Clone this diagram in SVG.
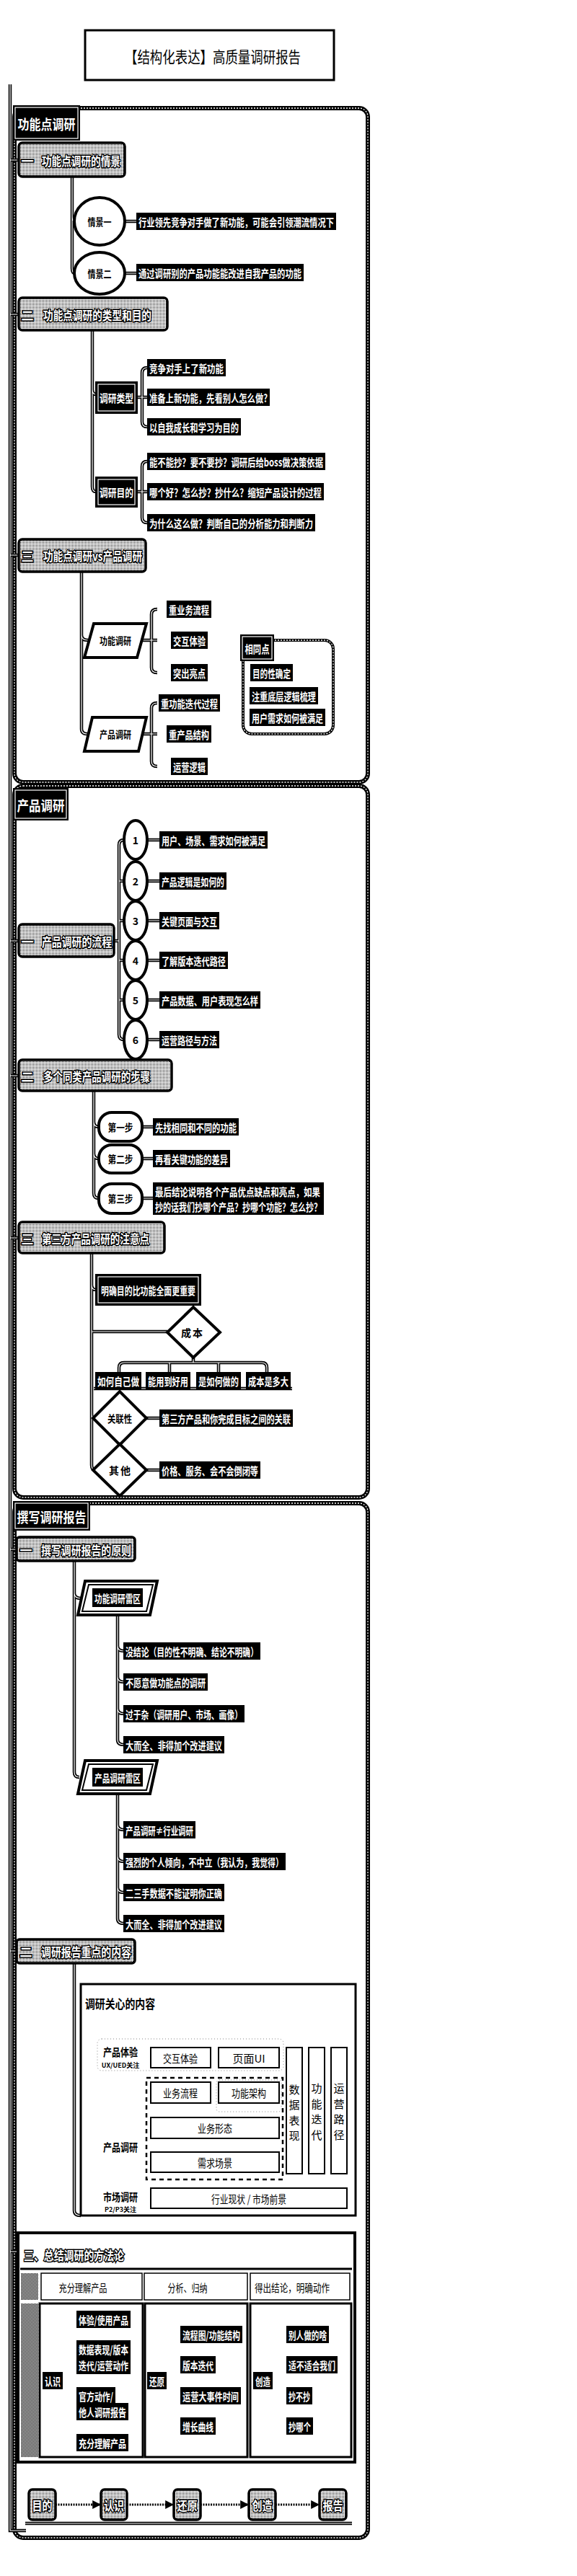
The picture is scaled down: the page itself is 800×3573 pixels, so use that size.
<svg xmlns="http://www.w3.org/2000/svg" xmlns:xlink="http://www.w3.org/1999/xlink" width="800" height="3573" viewBox="0 0 800 3573">
<defs>
<style>
text { font-family: "Noto Sans CJK SC", "Noto Sans", sans-serif; }
.lb { fill:#000; stroke:#000; stroke-width:2; }
.lt { fill:#fff; font-size:15px; font-weight:bold; dominant-baseline:central; }
.ht { fill:#fff; stroke:#000; stroke-width:3; paint-order:stroke; font-size:17px; font-weight:bold; dominant-baseline:central; }
.sh { fill:url(#dots); stroke:#000; stroke-width:3.5; }
.nt { fill:#000; font-size:14px; font-weight:bold; dominant-baseline:central; text-anchor:middle; }
.st { fill:#fff; font-size:19px; font-weight:bold; dominant-baseline:central; text-anchor:middle; }
.shape { fill:#fff; stroke:#000; stroke-width:4; }
.frame { fill:none; stroke:#000; stroke-width:6; }
.frame2 { fill:none; stroke:#fff; stroke-width:1.3; stroke-dasharray:2 2; }
.bx { fill:#fff; stroke:#000; stroke-width:2; }
.bt { fill:#000; font-size:15px; dominant-baseline:central; text-anchor:middle; }
.flow { fill:none; stroke:#000; stroke-width:3; stroke-dasharray:2 1.5; }
</style>
<pattern id="dots" width="2" height="2" patternUnits="userSpaceOnUse"><rect width="2" height="2" fill="#fff"/><rect width="1" height="1" fill="#000"/></pattern>
<pattern id="hatch" width="2" height="2" patternUnits="userSpaceOnUse"><rect width="2" height="2" fill="#fff"/><rect width="1" height="1" fill="#000"/><rect x="1" y="1" width="1" height="1" fill="#000"/></pattern>
<marker id="ah" viewBox="0 0 10 10" refX="9" refY="5" markerWidth="4" markerHeight="4" orient="auto"><path d="M0 0 L10 5 L0 10z" fill="#000"/></marker>
<g id="conn-paths">
<path d="M14 117 V3510 H36"/>
<path d="M14 222 H26 M14 436 H26 M14 770 H26 M14 1305 H26 M14 1492 H26 M14 1717 H26 M14 2149 H23 M14 2706 H23 M14 3123 H25"/>
<path d="M100 245 V372 Q100 379 104 379 M100 300 Q100 307 104 307"/>
<path d="M173 307 H190 M173 379 H190"/>
<path d="M128 458 V675 Q128 682 133 682 M128 540 Q128 547 133 547"/>
<path d="M204 510 Q197 510 197 517 V585 Q197 592 204 592 M190 551 H205"/>
<path d="M204 640 Q197 640 197 647 V718 Q197 725 204 725 M190 682 H205"/>
<path d="M113 793 V1011 Q113 1018 121 1018 M113 881 Q113 888 122 888"/>
<path d="M218 845 Q210 845 210 852 V926 Q210 933 218 933 M197 888 H218"/>
<path d="M218 975 Q210 975 210 982 V1056 Q210 1063 218 1063 M197 1018 H218"/>
<path d="M158 1305 H165 M172 1165 Q165 1165 165 1172 V1435 Q165 1442 172 1442 M165 1222 H172 M165 1277 H172 M165 1332 H172 M165 1387 H172"/>
<path d="M204 1165 H222 M204 1222 H222 M204 1277 H222 M204 1332 H222 M204 1387 H222 M204 1442 H222"/>
<path d="M130 1513 V1655 Q130 1662 137 1662 M130 1556 Q130 1563 137 1563 M130 1600 Q130 1607 137 1607"/>
<path d="M197 1563 H213 M197 1607 H213 M197 1662 H213"/>
<path d="M127 1738 V2031 Q127 2038 130 2038 M127 1782 Q127 1789 133 1789 M127 1847 H232 M127 1960 Q127 1967 130 1967"/>
<path d="M268 1883 V1890 M165 1905 V1897 Q165 1890 172 1890 H363 Q370 1890 370 1897 V1905 M235 1890 V1905 M303 1890 V1905"/>
<path d="M130 1926 H405"/>
<path d="M203 1967 H222 M203 2039 H222"/>
<path d="M103 2165 V2458 Q103 2465 110 2465 M103 2210 Q103 2217 113 2217"/>
<path d="M163 2240 V2413 Q163 2420 172 2420 M163 2283 Q163 2290 172 2290 M163 2326 Q163 2333 172 2333 M163 2370 Q163 2377 172 2377"/>
<path d="M163 2488 V2661 Q163 2668 172 2668 M163 2531 Q163 2538 172 2538 M163 2575 Q163 2582 172 2582 M163 2618 Q163 2625 172 2625"/>
<path d="M103 2723 V3066 Q103 3073 112 3073"/>
<path d="M86 3302 H97 M107 3217 Q97 3217 97 3224 V3381 Q97 3388 107 3388 M97 3270 H107 M97 3333 H107"/>
<path d="M230 3302 H243 M251 3238 Q243 3238 243 3245 V3358 Q243 3365 251 3365 M243 3280 H251 M243 3323 H251"/>
<path d="M377 3302 H388 M398 3238 Q388 3238 388 3245 V3358 Q388 3365 398 3365 M388 3280 H398 M388 3323 H398"/>
<path d="M35 3500 H488"/>
</g>
</defs>
<rect width="800" height="3573" fill="#fff"/>

<g id="title">
<rect x="118" y="42" width="345" height="69" fill="#fff" stroke="#000" stroke-width="3"/>
<text x="295" y="77" text-anchor="middle" font-size="22" dominant-baseline="central" textLength="244" lengthAdjust="spacingAndGlyphs">【结构化表达】高质量调研报告</text>
</g>

<g id="frames">
<rect class="frame" x="20" y="150" width="490" height="935" rx="12"/>
<rect class="frame2" x="20" y="150" width="490" height="935" rx="12"/>
<rect class="frame" x="20" y="1090" width="490" height="987" rx="12"/>
<rect class="frame2" x="20" y="1090" width="490" height="987" rx="12"/>
<rect class="frame" x="20" y="2085" width="490" height="1435" rx="12"/>
<rect class="frame2" x="20" y="2085" width="490" height="1435" rx="12"/>
</g>

<g id="connectors" fill="none">
<use href="#conn-paths" stroke="#000" stroke-width="4.5"/>
<use href="#conn-paths" stroke="#fff" stroke-width="1.2"/>
</g>

<!-- Section headers -->
<g id="sec1">
<rect x="18" y="146" width="93" height="49" fill="#000"/>
<rect x="21" y="149" width="87" height="43" fill="none" stroke="#fff" stroke-width="1.2"/>
<text class="st" x="64.5" y="171" textLength="80" lengthAdjust="spacingAndGlyphs">功能点调研</text>
</g>
<g id="sec2">
<rect x="18" y="1093" width="77" height="45" fill="#000"/>
<rect x="21" y="1096" width="71" height="39" fill="none" stroke="#fff" stroke-width="1.2"/>
<text class="st" x="56.5" y="1116" textLength="66" lengthAdjust="spacingAndGlyphs">产品调研</text>
</g>
<g id="sec3">
<rect x="18" y="2082" width="107" height="41" fill="#000"/>
<rect x="21" y="2085" width="101" height="35" fill="none" stroke="#fff" stroke-width="1.2"/>
<text class="st" x="71.5" y="2103" textLength="96" lengthAdjust="spacingAndGlyphs">撰写调研报告</text>
</g>

<!-- Sub headers -->
<g id="s1-1"><rect class="sh" x="26" y="198" width="147" height="47" rx="5"/><text class="ht" x="38" y="222" text-anchor="middle">一</text><text class="ht" x="58" y="222" textLength="109" lengthAdjust="spacingAndGlyphs">功能点调研的情景</text></g>
<g id="s1-2"><rect class="sh" x="26" y="413" width="206" height="45" rx="5"/><text class="ht" x="38" y="436" text-anchor="middle">二</text><text class="ht" x="60" y="436" textLength="150" lengthAdjust="spacingAndGlyphs">功能点调研的类型和目的</text></g>
<g id="s1-3"><rect class="sh" x="26" y="748" width="176" height="45" rx="5"/><text class="ht" x="38" y="770" text-anchor="middle">三</text><text class="ht" x="60" y="770" textLength="137" lengthAdjust="spacingAndGlyphs">功能点调研vs产品调研</text></g>
<g id="s2-1"><rect class="sh" x="26" y="1282" width="132" height="45" rx="5"/><text class="ht" x="38" y="1305" text-anchor="middle">一</text><text class="ht" x="58" y="1305" textLength="97" lengthAdjust="spacingAndGlyphs">产品调研的流程</text></g>
<g id="s2-2"><rect class="sh" x="26" y="1470" width="212" height="43" rx="5"/><text class="ht" x="38" y="1492" text-anchor="middle">二</text><text class="ht" x="60" y="1492" textLength="148" lengthAdjust="spacingAndGlyphs">多个同类产品调研的步骤</text></g>
<g id="s2-3"><rect class="sh" x="26" y="1695" width="202" height="43" rx="5"/><text class="ht" x="38" y="1717" text-anchor="middle">三</text><text class="ht" x="58" y="1717" textLength="149" lengthAdjust="spacingAndGlyphs">第三方产品调研的注意点</text></g>
<g id="s3-1"><rect class="sh" x="23" y="2132" width="164" height="33" rx="4"/><text class="ht" x="36" y="2149" text-anchor="middle">一</text><text class="ht" x="57" y="2149" textLength="125" lengthAdjust="spacingAndGlyphs">撰写调研报告的原则</text></g>
<g id="s3-2"><rect class="sh" x="23" y="2690" width="164" height="33" rx="4"/><text class="ht" x="36" y="2706" text-anchor="middle">二</text><text class="ht" x="57" y="2706" textLength="125" lengthAdjust="spacingAndGlyphs">调研报告重点的内容</text></g>

<!-- Section 1 nodes -->
<g id="qj1"><ellipse class="shape" cx="138" cy="307" rx="35" ry="33"/><text class="nt" x="138" y="307" textLength="33" lengthAdjust="spacingAndGlyphs">情景一</text></g>
<g id="qj2"><ellipse class="shape" cx="138" cy="379" rx="35" ry="29"/><text class="nt" x="138" y="379" textLength="33" lengthAdjust="spacingAndGlyphs">情景二</text></g>
<g id="l1"><rect class="lb" x="190" y="296" width="275" height="22"/><text class="lt" x="192" y="307" textLength="271" lengthAdjust="spacingAndGlyphs">行业领先竞争对手做了新功能，可能会引领潮流情况下</text></g>
<g id="l2"><rect class="lb" x="190" y="367" width="230" height="22"/><text class="lt" x="192" y="378" textLength="226" lengthAdjust="spacingAndGlyphs">通过调研别的产品功能能改进自我产品的功能</text></g>

<g id="type"><rect x="133" y="530" width="57" height="43" fill="#000" stroke="#000" stroke-width="2"/><rect x="136" y="533" width="51" height="37" fill="none" stroke="#fff" stroke-width="1.2"/><text class="lt" x="161.5" y="551" text-anchor="middle" textLength="47" lengthAdjust="spacingAndGlyphs">调研类型</text></g>
<g id="l3"><rect class="lb" x="205" y="499" width="107" height="22"/><text class="lt" x="207" y="510" textLength="103" lengthAdjust="spacingAndGlyphs">竞争对手上了新功能</text></g>
<g id="l4"><rect class="lb" x="205" y="540" width="168" height="22"/><text class="lt" x="207" y="551" textLength="164" lengthAdjust="spacingAndGlyphs">准备上新功能，先看别人怎么做?</text></g>
<g id="l5"><rect class="lb" x="205" y="581" width="128" height="22"/><text class="lt" x="207" y="592" textLength="124" lengthAdjust="spacingAndGlyphs">以自我成长和学习为目的</text></g>

<g id="purpose"><rect x="133" y="662" width="57" height="41" fill="#000" stroke="#000" stroke-width="2"/><rect x="136" y="665" width="51" height="35" fill="none" stroke="#fff" stroke-width="1.2"/><text class="lt" x="161.5" y="682" text-anchor="middle" textLength="47" lengthAdjust="spacingAndGlyphs">调研目的</text></g>
<g id="l6"><rect class="lb" x="205" y="629" width="245" height="22"/><text class="lt" x="207" y="640" textLength="241" lengthAdjust="spacingAndGlyphs">能不能抄？要不要抄？调研后给boss做决策依据</text></g>
<g id="l7"><rect class="lb" x="205" y="671" width="243" height="22"/><text class="lt" x="207" y="682" textLength="239" lengthAdjust="spacingAndGlyphs">哪个好？怎么抄？抄什么？缩短产品设计的过程</text></g>
<g id="l8"><rect class="lb" x="205" y="714" width="231" height="22"/><text class="lt" x="207" y="725" textLength="227" lengthAdjust="spacingAndGlyphs">为什么这么做？判断自己的分析能力和判断力</text></g>

<g id="fr"><polygon class="shape" points="130,865 203,865 190,912 117,912"/><text class="nt" x="160" y="888" textLength="44" lengthAdjust="spacingAndGlyphs">功能调研</text></g>
<g id="l9"><rect class="lb" x="232" y="834" width="60" height="22"/><text class="lt" x="234" y="845" textLength="56" lengthAdjust="spacingAndGlyphs">重业务流程</text></g>
<g id="l10"><rect class="lb" x="238" y="877" width="49" height="22"/><text class="lt" x="240" y="888" textLength="45" lengthAdjust="spacingAndGlyphs">交互体验</text></g>
<g id="l11"><rect class="lb" x="238" y="922" width="49" height="22"/><text class="lt" x="240" y="933" textLength="45" lengthAdjust="spacingAndGlyphs">突出亮点</text></g>
<g id="pr"><polygon class="shape" points="128,995 203,995 192,1042 117,1042"/><text class="nt" x="160" y="1018" textLength="44" lengthAdjust="spacingAndGlyphs">产品调研</text></g>
<g id="l12"><rect class="lb" x="221" y="964" width="83" height="22"/><text class="lt" x="223" y="975" textLength="79" lengthAdjust="spacingAndGlyphs">重功能迭代过程</text></g>
<g id="l13"><rect class="lb" x="232" y="1007" width="60" height="22"/><text class="lt" x="234" y="1018" textLength="56" lengthAdjust="spacingAndGlyphs">重产品结构</text></g>
<g id="l14"><rect class="lb" x="238" y="1052" width="49" height="22"/><text class="lt" x="240" y="1063" textLength="45" lengthAdjust="spacingAndGlyphs">运营逻辑</text></g>

<g id="same">
<rect class="frame" x="337" y="888" width="125" height="130" rx="12" style="stroke-width:4"/>
<rect class="frame2" x="337" y="888" width="125" height="130" rx="12"/>
<rect x="333" y="880" width="47" height="37" fill="#000"/>
<rect x="336" y="883" width="41" height="31" fill="none" stroke="#fff" stroke-width="1.2"/>
<text class="lt" x="356.5" y="899" text-anchor="middle" textLength="34" lengthAdjust="spacingAndGlyphs">相同点</text>
<rect class="lb" x="348" y="922" width="57" height="22"/><text class="lt" x="350" y="933" textLength="53" lengthAdjust="spacingAndGlyphs">目的性确定</text>
<rect class="lb" x="347" y="954" width="93" height="22"/><text class="lt" x="349" y="965" textLength="89" lengthAdjust="spacingAndGlyphs">注重底层逻辑梳理</text>
<rect class="lb" x="347" y="984" width="103" height="22"/><text class="lt" x="349" y="995" textLength="99" lengthAdjust="spacingAndGlyphs">用户需求如何被满足</text>
</g>

<!-- Section 2 nodes -->
<g id="c1"><ellipse class="shape" cx="188" cy="1165" rx="16" ry="27"/><text class="nt" x="188" y="1165">1</text></g>
<g id="c2"><ellipse class="shape" cx="188" cy="1222" rx="16" ry="27"/><text class="nt" x="188" y="1222">2</text></g>
<g id="c3"><ellipse class="shape" cx="188" cy="1277" rx="16" ry="27"/><text class="nt" x="188" y="1277">3</text></g>
<g id="c4"><ellipse class="shape" cx="188" cy="1332" rx="16" ry="27"/><text class="nt" x="188" y="1332">4</text></g>
<g id="c5"><ellipse class="shape" cx="188" cy="1387" rx="16" ry="27"/><text class="nt" x="188" y="1387">5</text></g>
<g id="c6"><ellipse class="shape" cx="188" cy="1442" rx="16" ry="27"/><text class="nt" x="188" y="1442">6</text></g>
<g id="p1"><rect class="lb" x="222" y="1154" width="148" height="22"/><text class="lt" x="224" y="1165" textLength="144" lengthAdjust="spacingAndGlyphs">用户、场景、需求如何被满足</text></g>
<g id="p2"><rect class="lb" x="222" y="1211" width="91" height="22"/><text class="lt" x="224" y="1222" textLength="87" lengthAdjust="spacingAndGlyphs">产品逻辑是如何的</text></g>
<g id="p3"><rect class="lb" x="222" y="1266" width="81" height="22"/><text class="lt" x="224" y="1277" textLength="77" lengthAdjust="spacingAndGlyphs">关键页面与交互</text></g>
<g id="p4"><rect class="lb" x="222" y="1321" width="93" height="22"/><text class="lt" x="224" y="1332" textLength="89" lengthAdjust="spacingAndGlyphs">了解版本迭代路径</text></g>
<g id="p5"><rect class="lb" x="222" y="1376" width="138" height="22"/><text class="lt" x="224" y="1387" textLength="134" lengthAdjust="spacingAndGlyphs">产品数据、用户表现怎么样</text></g>
<g id="p6"><rect class="lb" x="222" y="1431" width="81" height="22"/><text class="lt" x="224" y="1442" textLength="77" lengthAdjust="spacingAndGlyphs">运营路径与方法</text></g>

<g id="step1"><rect class="shape" x="137" y="1543" width="60" height="40" rx="18"/><text class="nt" x="167" y="1563" textLength="35" lengthAdjust="spacingAndGlyphs">第一步</text></g>
<g id="step2"><rect class="shape" x="137" y="1588" width="60" height="39" rx="18"/><text class="nt" x="167" y="1607" textLength="35" lengthAdjust="spacingAndGlyphs">第二步</text></g>
<g id="step3"><rect class="shape" x="137" y="1642" width="60" height="41" rx="18"/><text class="nt" x="167" y="1662" textLength="35" lengthAdjust="spacingAndGlyphs">第三步</text></g>
<g id="sl1"><rect class="lb" x="213" y="1552" width="117" height="22"/><text class="lt" x="215" y="1563" textLength="113" lengthAdjust="spacingAndGlyphs">先找相同和不同的功能</text></g>
<g id="sl2"><rect class="lb" x="213" y="1596" width="105" height="22"/><text class="lt" x="215" y="1607" textLength="101" lengthAdjust="spacingAndGlyphs">再看关键功能的差异</text></g>
<g id="sl3"><rect class="lb" x="213" y="1641" width="235" height="43"/><text class="lt" x="215" y="1652" textLength="229" lengthAdjust="spacingAndGlyphs">最后结论说明各个产品优点缺点和亮点，如果</text><text class="lt" x="215" y="1673" textLength="231" lengthAdjust="spacingAndGlyphs">抄的话我们抄哪个产品？抄哪个功能？怎么抄？</text></g>

<g id="goal"><rect x="133" y="1768" width="145" height="42" fill="#000" stroke="#000" stroke-width="2"/><rect x="136" y="1771" width="139" height="36" fill="none" stroke="#fff" stroke-width="1.2"/><text class="lt" x="140" y="1789" textLength="131" lengthAdjust="spacingAndGlyphs">明确目的比功能全面更重要</text></g>
<g id="cost"><polygon class="shape" points="232,1848 268,1813 305,1848 268,1883"/><text class="nt" x="266" y="1848" textLength="30" lengthAdjust="spacing">成 本</text></g>
<g id="k1"><rect class="lb" x="133" y="1904" width="62" height="22"/><text class="lt" x="135" y="1915" textLength="58" lengthAdjust="spacingAndGlyphs">如何自己做</text></g>
<g id="k2"><rect class="lb" x="203" y="1904" width="60" height="22"/><text class="lt" x="205" y="1915" textLength="56" lengthAdjust="spacingAndGlyphs">能用到好用</text></g>
<g id="k3"><rect class="lb" x="273" y="1904" width="60" height="22"/><text class="lt" x="275" y="1915" textLength="56" lengthAdjust="spacingAndGlyphs">是如何做的</text></g>
<g id="k4"><rect class="lb" x="342" y="1904" width="60" height="22"/><text class="lt" x="344" y="1915" textLength="56" lengthAdjust="spacingAndGlyphs">成本是多大</text></g>
<g id="rel"><polygon class="shape" points="129,1967 166,1930 203,1967 166,2004"/><text class="nt" x="166" y="1967" textLength="34" lengthAdjust="spacingAndGlyphs">关联性</text></g>
<g id="oth"><polygon class="shape" points="129,2039 166,2003 203,2039 166,2075"/><text class="nt" x="166" y="2039" textLength="30" lengthAdjust="spacing">其 他</text></g>
<g id="k5"><rect class="lb" x="222" y="1956" width="183" height="22"/><text class="lt" x="224" y="1967" textLength="179" lengthAdjust="spacingAndGlyphs">第三方产品和你完成目标之间的关联</text></g>
<g id="k6"><rect class="lb" x="222" y="2028" width="138" height="22"/><text class="lt" x="224" y="2039" textLength="134" lengthAdjust="spacingAndGlyphs">价格、服务、会不会倒闭等</text></g>

<!-- Section 3 nodes -->
<g id="mine1">
<polygon class="shape" points="118,2193 218,2193 208,2240 108,2240"/>
<polygon points="123,2198 212,2198 203,2235 114,2235" fill="none" stroke="#000" stroke-width="2"/>
<rect x="128" y="2203" width="70" height="26" fill="#000"/>
<text class="lt" x="131" y="2216" textLength="64" lengthAdjust="spacingAndGlyphs">功能调研雷区</text>
</g>
<g id="m1"><rect class="lb" x="172" y="2279" width="188" height="22"/><text class="lt" x="174" y="2290" textLength="184" lengthAdjust="spacingAndGlyphs">没结论（目的性不明确、结论不明确）</text></g>
<g id="m2"><rect class="lb" x="172" y="2322" width="115" height="22"/><text class="lt" x="174" y="2333" textLength="111" lengthAdjust="spacingAndGlyphs">不愿意做功能点的调研</text></g>
<g id="m3"><rect class="lb" x="172" y="2366" width="166" height="22"/><text class="lt" x="174" y="2377" textLength="162" lengthAdjust="spacingAndGlyphs">过于杂（调研用户、市场、画像）</text></g>
<g id="m4"><rect class="lb" x="172" y="2409" width="138" height="22"/><text class="lt" x="174" y="2420" textLength="134" lengthAdjust="spacingAndGlyphs">大而全、非得加个改进建议</text></g>
<g id="mine2">
<polygon class="shape" points="118,2442 218,2442 208,2488 108,2488"/>
<polygon points="123,2447 212,2447 203,2483 114,2483" fill="none" stroke="#000" stroke-width="2"/>
<rect x="128" y="2452" width="70" height="26" fill="#000"/>
<text class="lt" x="131" y="2465" textLength="64" lengthAdjust="spacingAndGlyphs">产品调研雷区</text>
</g>
<g id="m5"><rect class="lb" x="172" y="2527" width="98" height="22"/><text class="lt" x="174" y="2538" textLength="94" lengthAdjust="spacingAndGlyphs">产品调研≠行业调研</text></g>
<g id="m6"><rect class="lb" x="172" y="2571" width="223" height="22"/><text class="lt" x="174" y="2582" textLength="219" lengthAdjust="spacingAndGlyphs">强烈的个人倾向，不中立（我认为，我觉得）</text></g>
<g id="m7"><rect class="lb" x="172" y="2614" width="138" height="22"/><text class="lt" x="174" y="2625" textLength="134" lengthAdjust="spacingAndGlyphs">二三手数据不能证明你正确</text></g>
<g id="m8"><rect class="lb" x="172" y="2657" width="138" height="22"/><text class="lt" x="174" y="2668" textLength="134" lengthAdjust="spacingAndGlyphs">大而全、非得加个改进建议</text></g>

<g id="content">
<rect x="112" y="2752" width="381" height="321" fill="#fff" stroke="#000" stroke-width="3"/>
<text x="118" y="2778" font-size="17" font-weight="bold" dominant-baseline="central" textLength="97" lengthAdjust="spacingAndGlyphs">调研关心的内容</text>
<rect x="135" y="2828" width="258" height="44" rx="6" fill="none" stroke="#888" stroke-width="1" stroke-dasharray="1 3"/>
<rect x="300" y="2885" width="90" height="44" rx="4" fill="none" stroke="#888" stroke-width="1" stroke-dasharray="1 3"/>
<rect x="203" y="2882" width="189" height="141" fill="none" stroke="#000" stroke-width="2.5" stroke-dasharray="6 5"/>
<text x="167" y="2845" font-size="15" font-weight="bold" text-anchor="middle" dominant-baseline="central" textLength="48" lengthAdjust="spacingAndGlyphs">产品体验</text>
<text x="167" y="2864" font-size="9" font-weight="bold" text-anchor="middle" dominant-baseline="central">UX/UED关注</text>
<text x="167" y="2977" font-size="15" font-weight="bold" text-anchor="middle" dominant-baseline="central" textLength="48" lengthAdjust="spacingAndGlyphs">产品调研</text>
<text x="167" y="3046" font-size="15" font-weight="bold" text-anchor="middle" dominant-baseline="central" textLength="48" lengthAdjust="spacingAndGlyphs">市场调研</text>
<text x="167" y="3064" font-size="9" font-weight="bold" text-anchor="middle" dominant-baseline="central">P2/P3关注</text>
<rect class="bx" x="209" y="2840" width="83" height="28"/><text class="bt" x="250" y="2854" textLength="48" lengthAdjust="spacingAndGlyphs">交互体验</text>
<rect class="bx" x="303" y="2840" width="84" height="28"/><text class="bt" x="345" y="2854">页面UI</text>
<rect class="bx" x="209" y="2888" width="83" height="29"/><text class="bt" x="250" y="2902" textLength="48" lengthAdjust="spacingAndGlyphs">业务流程</text>
<rect class="bx" x="303" y="2888" width="84" height="29"/><text class="bt" x="345" y="2902" textLength="48" lengthAdjust="spacingAndGlyphs">功能架构</text>
<rect class="bx" x="209" y="2937" width="178" height="29"/><text class="bt" x="298" y="2951" textLength="48" lengthAdjust="spacingAndGlyphs">业务形态</text>
<rect class="bx" x="209" y="2985" width="178" height="28"/><text class="bt" x="298" y="2999" textLength="48" lengthAdjust="spacingAndGlyphs">需求场景</text>
<rect class="bx" x="397" y="2840" width="22" height="175"/>
<text class="bt" font-size="17"><tspan x="408" y="2897">数</tspan><tspan x="408" y="2918">据</tspan><tspan x="408" y="2940">表</tspan><tspan x="408" y="2961">现</tspan></text>
<rect class="bx" x="428" y="2840" width="22" height="175"/>
<text class="bt" font-size="17"><tspan x="439" y="2895">功</tspan><tspan x="439" y="2917">能</tspan><tspan x="439" y="2938">迭</tspan><tspan x="439" y="2960">代</tspan></text>
<rect class="bx" x="459" y="2840" width="22" height="175"/>
<text class="bt" font-size="17"><tspan x="470" y="2895">运</tspan><tspan x="470" y="2917">营</tspan><tspan x="470" y="2938">路</tspan><tspan x="470" y="2960">径</tspan></text>
<rect class="bx" x="209" y="3035" width="272" height="28"/><text class="bt" x="345" y="3049" textLength="104" lengthAdjust="spacingAndGlyphs">行业现状 / 市场前景</text>
</g>

<g id="method">
<rect x="25" y="3097" width="467" height="318" fill="#fff" stroke="#000" stroke-width="4"/>
<text class="ht" x="33" y="3127" font-size="19" textLength="139" lengthAdjust="spacingAndGlyphs">三、总结调研的方法论</text>
<path d="M28 3147 H488" stroke="#000" stroke-width="3"/>
<rect x="29" y="3153" width="24" height="37" fill="url(#hatch)"/>
<rect x="29" y="3195" width="24" height="213" fill="url(#hatch)"/>
<rect x="57" y="3153" width="140" height="37" fill="#fff" stroke="#000" stroke-width="1.5"/>
<rect x="200" y="3153" width="143" height="37" fill="#fff" stroke="#000" stroke-width="1.5"/>
<rect x="347" y="3153" width="138" height="37" fill="#fff" stroke="#000" stroke-width="1.5"/>
<text class="bt" x="115" y="3172" textLength="67" lengthAdjust="spacingAndGlyphs">充分理解产品</text>
<text class="bt" x="260" y="3172" textLength="55" lengthAdjust="spacingAndGlyphs">分析、归纳</text>
<text class="bt" x="405" y="3172" textLength="104" lengthAdjust="spacingAndGlyphs">得出结论，明确动作</text>
<rect x="55" y="3195" width="143" height="213" fill="none" stroke="#000" stroke-width="3"/>
<rect x="201" y="3195" width="142" height="213" fill="none" stroke="#000" stroke-width="3"/>
<rect x="347" y="3195" width="140" height="213" fill="none" stroke="#000" stroke-width="3"/>
</g>

<g id="cell1">
<rect class="lb" x="60" y="3291" width="26" height="22"/><text class="lt" x="62" y="3302" textLength="22" lengthAdjust="spacingAndGlyphs">认识</text>
<rect class="lb" x="107" y="3206" width="73" height="22"/><text class="lt" x="109" y="3217" textLength="69" lengthAdjust="spacingAndGlyphs">体验/使用产品</text>
<rect class="lb" x="107" y="3247" width="73" height="45"/><text class="lt" x="109" y="3258" textLength="69" lengthAdjust="spacingAndGlyphs">数据表现/版本</text><text class="lt" x="109" y="3280" textLength="69" lengthAdjust="spacingAndGlyphs">迭代/运营动作</text>
<rect class="lb" x="107" y="3312" width="52" height="22"/><text class="lt" x="109" y="3323" textLength="48" lengthAdjust="spacingAndGlyphs">官方动作/</text>
<rect class="lb" x="107" y="3334" width="70" height="22"/><text class="lt" x="109" y="3345" textLength="66" lengthAdjust="spacingAndGlyphs">他人调研报告</text>
<rect class="lb" x="107" y="3377" width="70" height="22"/><text class="lt" x="109" y="3388" textLength="66" lengthAdjust="spacingAndGlyphs">充分理解产品</text>
</g>
<g id="cell2">
<rect class="lb" x="205" y="3291" width="25" height="22"/><text class="lt" x="207" y="3302" textLength="21" lengthAdjust="spacingAndGlyphs">还原</text>
<rect class="lb" x="251" y="3227" width="84" height="22"/><text class="lt" x="253" y="3238" textLength="80" lengthAdjust="spacingAndGlyphs">流程图/功能结构</text>
<rect class="lb" x="251" y="3269" width="47" height="22"/><text class="lt" x="253" y="3280" textLength="43" lengthAdjust="spacingAndGlyphs">版本迭代</text>
<rect class="lb" x="251" y="3312" width="82" height="22"/><text class="lt" x="253" y="3323" textLength="78" lengthAdjust="spacingAndGlyphs">运营大事件时间</text>
<rect class="lb" x="251" y="3354" width="47" height="22"/><text class="lt" x="253" y="3365" textLength="43" lengthAdjust="spacingAndGlyphs">增长曲线</text>
</g>
<g id="cell3">
<rect class="lb" x="352" y="3291" width="25" height="22"/><text class="lt" x="354" y="3302" textLength="21" lengthAdjust="spacingAndGlyphs">创造</text>
<rect class="lb" x="398" y="3227" width="57" height="22"/><text class="lt" x="400" y="3238" textLength="53" lengthAdjust="spacingAndGlyphs">别人做的啥</text>
<rect class="lb" x="398" y="3269" width="69" height="22"/><text class="lt" x="400" y="3280" textLength="65" lengthAdjust="spacingAndGlyphs">适不适合我们</text>
<rect class="lb" x="398" y="3312" width="34" height="22"/><text class="lt" x="400" y="3323" textLength="30" lengthAdjust="spacingAndGlyphs">抄不抄</text>
<rect class="lb" x="398" y="3354" width="35" height="22"/><text class="lt" x="400" y="3365" textLength="31" lengthAdjust="spacingAndGlyphs">抄哪个</text>
</g>

<g id="flow-arrows">
<path class="flow" d="M77 3474 H139" marker-end="url(#ah)"/>
<path class="flow" d="M176 3474 H240" marker-end="url(#ah)"/>
<path class="flow" d="M278 3474 H344" marker-end="url(#ah)"/>
<path class="flow" d="M382 3474 H442" marker-end="url(#ah)"/>
</g>
<g id="f1"><rect class="sh" x="40" y="3453" width="37" height="42" rx="5"/><text class="ht" x="58.5" y="3474" text-anchor="middle" font-size="15" textLength="28" lengthAdjust="spacingAndGlyphs">目的</text></g>
<g id="f2"><rect class="sh" x="140" y="3453" width="36" height="42" rx="5"/><text class="ht" x="158" y="3474" text-anchor="middle" font-size="15" textLength="28" lengthAdjust="spacingAndGlyphs">认识</text></g>
<g id="f3"><rect class="sh" x="241" y="3453" width="37" height="42" rx="5"/><text class="ht" x="259.5" y="3474" text-anchor="middle" font-size="15" textLength="28" lengthAdjust="spacingAndGlyphs">还原</text></g>
<g id="f4"><rect class="sh" x="345" y="3453" width="37" height="42" rx="5"/><text class="ht" x="363.5" y="3474" text-anchor="middle" font-size="15" textLength="28" lengthAdjust="spacingAndGlyphs">创造</text></g>
<g id="f5"><rect class="sh" x="443" y="3453" width="37" height="42" rx="5"/><text class="ht" x="461.5" y="3474" text-anchor="middle" font-size="15" textLength="28" lengthAdjust="spacingAndGlyphs">报告</text></g>
</svg>
